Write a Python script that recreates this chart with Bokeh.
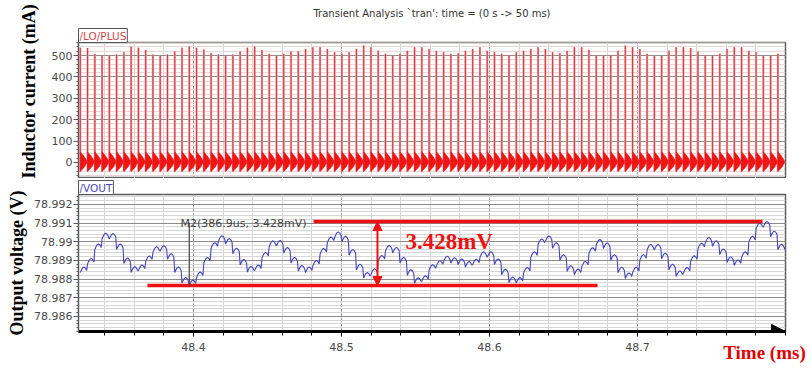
import math
from bokeh.plotting import figure
from bokeh.models import (Range1d, FixedTicker, Label, Arrow, NormalHead, Title,
                          CustomJSTickFormatter)
from bokeh.layouts import column
from bokeh.embed import file_html
from bokeh.resources import INLINE

# ---------------- data ----------------
title_text = "Transient Analysis `tran': time = (0 s -> 50 ms)"
x_ticks_ms = [48.4, 48.5, 48.6, 48.7]
i_ticks_mA = [0, 100, 200, 300, 400, 500]
v_ticks_V = [78.986, 78.987, 78.988, 78.989, 78.990, 78.991, 78.992]

first_spike_ms = 48.3235
switch_period_ms = 0.00491

spike_peak_mA = [537, 535, 507, 500, 500, 505, 515, 542, 537, 526,
                 505, 500, 505, 519, 537, 542, 537, 528, 512, 505,
                 500, 505, 519, 537, 542, 526, 508, 500, 508, 519,
                 520, 531, 539, 539, 531, 515, 508, 515, 531, 547,
                 539, 523, 508, 500, 508, 523, 539, 539, 531, 523,
                 515, 508, 511, 523, 531, 539, 523, 515, 508, 503,
                 515, 523, 531, 539, 531, 515, 511, 523, 539, 539,
                 527, 500, 500, 503, 523, 547, 539, 531, 508, 500,
                 500, 523, 539, 539, 535, 519, 503, 500, 508, 531,
                 539, 539, 523, 515, 500, 500, 508]
ring_top_mA = 50
ring_bottom_mA = -42

vout_mid_V = [78.98852, 78.98898, 78.98975, 78.99033, 78.99031, 78.98975, 78.98900, 78.98853,
              78.98862, 78.98911, 78.98960, 78.98966, 78.98923, 78.98852, 78.98795, 78.98782,
              78.98825, 78.98903, 78.98982, 78.99019, 78.99004, 78.98953, 78.98892, 78.98854,
              78.98863, 78.98930, 78.98992, 78.98994, 78.98956, 78.98903, 78.98860, 78.98852,
              78.98887, 78.98951, 78.99012, 78.99040, 78.99016, 78.98945, 78.98866, 78.98822,
              78.98842, 78.98913, 78.98967, 78.98957, 78.98903, 78.98837, 78.98794, 78.98805,
              78.98864, 78.98886, 78.98910, 78.98902, 78.98895, 78.98881, 78.98894, 78.98933,
              78.98934, 78.98895, 78.98840, 78.98798, 78.98795, 78.98849, 78.98933, 78.99002,
              78.99018, 78.98982, 78.98917, 78.98858, 78.98841, 78.98882, 78.98955, 78.98999,
              78.98981, 78.98917, 78.98851, 78.98820, 78.98850, 78.98918, 78.98973, 78.98972,
              78.98926, 78.98866, 78.98831, 78.98849, 78.98912, 78.98979, 78.99010, 78.98992,
              78.98948, 78.98906, 78.98890, 78.98933, 78.99016, 78.99087, 78.99095, 78.99044,
              78.98974]
ripple_up_V = 0.00013
ripple_down_V = 0.00017

marker_dt_us = 386.9
ripple_pp_mV = 3.428

# ---------------- derived geometry ----------------
n = len(spike_peak_mA)
spike_t = [first_spike_ms + k * switch_period_ms for k in range(n)]

band_xs, band_ys = [], []
for t in spike_t:
    T = switch_period_ms
    band_xs.append([t, t, t + 0.5 * T, t + 0.9 * T, t + 0.9 * T, t + 0.5 * T])
    band_ys.append([ring_bottom_mA, ring_top_mA, 0.6 * ring_top_mA, 0.15 * ring_top_mA,
                    -0.05 * ring_top_mA, 0.6 * ring_bottom_mA])

arch_f = [0.0, 0.12, 0.3, 0.5, 0.7, 0.88]
arch_s = [math.sin(math.pi * f) for f in arch_f]
vx, vy = [], []
for t, vm in zip(spike_t, vout_mid_V):
    for f, s in zip(arch_f, arch_s):
        vx.append(t + f * switch_period_ms)
        vy.append(vm - ripple_down_V + s * (ripple_up_V + ripple_down_V))
vx.append(spike_t[-1] + switch_period_ms)
vy.append(vout_mid_V[-1] - ripple_down_V)

v_top = max(vy)
v_bot = min(vy)
t_min = vx[vy.index(v_bot)]

# ---------------- figures ----------------
X0, X1 = 48.3223, 48.8
VY0, VY1 = 78.98519, 78.99253
xr = Range1d(X0, X1)
GRID_MAJ = "#8c8c8c"
GRID_MIN = "#d6d6d6"
TICK_TXT = "#4a4a4a"
NB = "\u00a0"

x_minor = [round(48.32 + 0.02 * i, 2) for i in range(25)]

top = figure(width=811, height=178, x_range=xr, y_range=Range1d(-75, 561),
             output_backend="svg", toolbar_location=None,
             min_border_left=78, min_border_right=26, min_border_top=42, min_border_bottom=0)
top.xaxis.visible = False
top.xgrid.ticker = FixedTicker(ticks=x_ticks_ms, minor_ticks=x_minor)
top.yaxis.ticker = FixedTicker(ticks=i_ticks_mA, minor_ticks=list(range(-60, 561, 20)))

bot = figure(width=811, height=193, x_range=xr, y_range=Range1d(VY0, VY1),
             output_backend="svg", toolbar_location=None,
             min_border_left=78, min_border_right=26, min_border_top=15, min_border_bottom=40)
bot.xaxis.ticker = FixedTicker(ticks=x_ticks_ms, minor_ticks=x_minor)
v_minor = [round(78.9852 + 0.0002 * i, 4) for i in range(37)]
bot.yaxis.ticker = FixedTicker(ticks=v_ticks_V, minor_ticks=v_minor)
bot.yaxis.formatter = CustomJSTickFormatter(code="return String(+tick.toFixed(4));")

for p in (top, bot):
    p.outline_line_color = "#5a5a5a"
    p.outline_line_width = 1.5
    p.background_fill_color = "white"
    p.border_fill_color = "white"
    p.xgrid.grid_line_color = GRID_MAJ
    p.ygrid.grid_line_color = GRID_MAJ
    p.xgrid.grid_line_dash = "3 2"
    p.xgrid.minor_grid_line_color = GRID_MIN
    p.ygrid.minor_grid_line_color = GRID_MIN
    p.yaxis.axis_line_color = "#5a5a5a"
    p.yaxis.major_tick_line_color = "#5a5a5a"
    p.yaxis.minor_tick_line_color = "#5a5a5a"
    p.yaxis.major_tick_out = 5
    p.yaxis.major_tick_in = 0
    p.yaxis.minor_tick_out = 2
    p.yaxis.minor_tick_in = 0
    p.yaxis.major_label_standoff = 1
    p.yaxis.major_label_text_font = "DejaVu Sans"
    p.yaxis.major_label_text_font_size = "11px"
    p.yaxis.major_label_text_color = TICK_TXT
    p.yaxis.axis_label_text_font = "Liberation Serif"
    p.yaxis.axis_label_text_font_style = "bold"
    p.yaxis.axis_label_text_font_size = "18px"
    p.yaxis.axis_label_text_color = "black"

top.ygrid.minor_grid_line_color = "#ead6d6"

# main title (outermost) and panel tabs (next to the frames)
top.title = Title(text=title_text, align="center", vertical_align="top", text_font="DejaVu Sans",
                  text_font_size="10px", text_font_style="normal", text_color="#333333",
                  standoff=12)
top.add_layout(Title(text="/LO/PLUS", align="left", text_font="DejaVu Sans", text_font_size="10.5px",
                     text_font_style="normal", text_color="#d04848", standoff=0, padding=1,
                     border_line_color="#555555", background_fill_color="white"), "above")
bot.title = Title(text="/VOUT", align="left", text_font="DejaVu Sans", text_font_size="10.5px",
                  text_font_style="normal", text_color="#4848b8", standoff=0, padding=1,
                  border_line_color="#555555", background_fill_color="white")

# y-axis titles
top.add_layout(Title(text="Inductor current (mA)", align="left", text_font="Liberation Serif",
                     text_font_style="bold", text_font_size="18px", text_color="black",
                     standoff=20), "left")
bot.yaxis.axis_label = "Output voltage (V)"
bot.yaxis.axis_label_standoff = 4

# bottom x axis
bot.xaxis.axis_line_color = "black"
bot.xaxis.axis_line_width = 3
bot.xaxis.major_tick_line_color = "black"
bot.xaxis.minor_tick_line_color = "black"
bot.xaxis.major_tick_out = 5
bot.xaxis.major_tick_in = 0
bot.xaxis.minor_tick_out = 4
bot.xaxis.minor_tick_in = 0
bot.xaxis.major_label_standoff = 6
bot.xaxis.major_label_text_font = "DejaVu Sans"
bot.xaxis.major_label_text_font_size = "11px"
bot.xaxis.major_label_text_color = TICK_TXT
bot.xaxis.axis_label_text_font = "Liberation Serif"
bot.xaxis.axis_label_text_font_style = "bold"
bot.xaxis.axis_label_text_font_size = "19px"
bot.xaxis.axis_label_text_color = "#e00000"
bot.xaxis.axis_label_standoff = -12
bot.xaxis.axis_label = NB * 140 + "Time (ms)"

# ---------------- glyphs ----------------
top.segment(x0=spike_t, y0=[ring_bottom_mA] * n, x1=spike_t, y1=spike_peak_mA,
            line_color="#f2a6a6", line_width=2.2)
top.segment(x0=spike_t, y0=[ring_bottom_mA] * n, x1=spike_t, y1=spike_peak_mA,
            line_color="#d83a42", line_width=1.1)
top.patches(band_xs, band_ys, fill_color="#ee1515", line_color="#ee1515", line_width=0.5)

bot.line(vx, vy, line_color="#4444bb", line_width=1.1)

RED = "#ee1111"
bot.segment(x0=[48.4811, 48.3689], y0=[v_top, v_bot], x1=[48.7845, 48.673], y1=[v_top, v_bot],
            line_color=RED, line_width=3.5)
bot.add_layout(Arrow(start=NormalHead(size=9, fill_color=RED, line_color=RED),
                     end=NormalHead(size=9, fill_color=RED, line_color=RED),
                     x_start=48.5243, y_start=v_bot, x_end=48.5243, y_end=v_top,
                     line_color=RED, line_width=2))
bot.segment(x0=[t_min], y0=[78.99102], x1=[t_min], y1=[v_bot], line_color="#444444", line_width=1.2)
bot.add_layout(Label(x=48.3912, y=78.99097, text=f"M2({marker_dt_us}us, {ripple_pp_mV}mV)",
                     text_font="DejaVu Sans", text_font_size="11px", text_color="#444444",
                     text_baseline="middle", text_align="left"))
bot.add_layout(Label(x=48.5432, y=78.99000, text=f"{ripple_pp_mV}mV",
                     text_font="Liberation Serif", text_font_style="bold", text_font_size="23px",
                     text_color=RED, text_baseline="middle", text_align="left"))

bot.add_layout(Arrow(end=NormalHead(size=14, fill_color="black", line_color="black"),
                     x_start=X1 - 0.01, y_start=VY0, x_end=X1, y_end=VY0,
                     line_color="black", line_width=3))

layout = column(top, bot)
open("out.html", "w").write(file_html(layout, INLINE))
